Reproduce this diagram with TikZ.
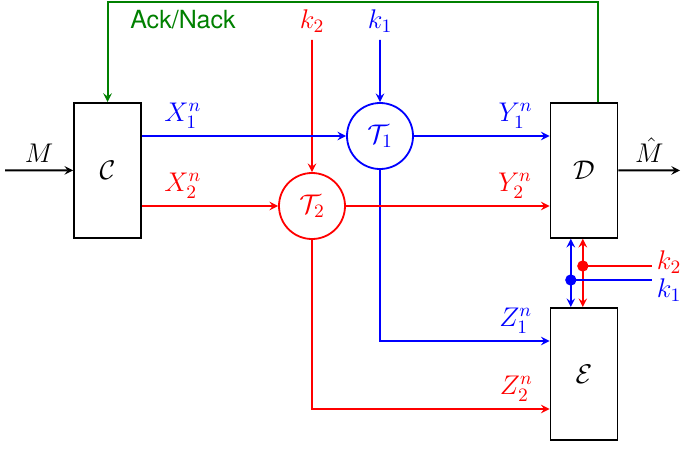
\documentclass[tikz,border=0pt]{standalone}
\usepackage{fix-cm}
\usepackage{amsmath,amssymb}
\usepackage{fontspec}
\usepackage{tikz}
\usepackage{xcolor}
\newfontfamily\acksf{TeX Gyre Heros}

\begin{document}
\begin{tikzpicture}[scale=0.7028, >=stealth, line width=0.9pt,
    font=\fontsize{13.5}{16}\selectfont,
    blk/.style={draw,black,minimum width=33.5pt,minimum height=67.5pt,inner sep=0pt},
    key/.style={circle,draw,minimum size=33pt,inner sep=0pt},
    dot/.style={circle,fill,inner sep=2pt},
    ack/.style={green!50!black}]
  \useasboundingbox (0,0) rectangle (17.05,11.2);
  \node[blk] (C) at (2.69,6.94) {$\mathcal{C}$};
  \node[blk] (D) at (14.6,6.94) {$\mathcal{D}$};
  \node[blk,minimum height=66pt] (E) at (14.6,1.85) {$\mathcal{E}$};
  \node[key,blue] (T1) at (9.5,7.8)  {$\mathcal{T}_1$};
  \node[key,red]  (T2) at (7.8,6.05) {$\mathcal{T}_2$};
  \node[red]  (k2) at (7.8,10.68) {$k_2$};
  \node[blue] (k1) at (9.5,10.68) {$k_1$};
  \draw[red,->]  (k2) -- (T2);
  \draw[blue,->] (k1) -- (T1);
  % input and output
  \coordinate (min)  at (0.125,6.94);
  \coordinate (mout) at (17.0,6.94);
  \draw[->] (min) -- (C) node[midway,above] (m) {$M$};
  \draw[->] (D) -- (mout) node[midway,above] (mh) {$\hat{M}$};
  % main channels
  \coordinate (z1) at (0,2.675);
  \coordinate (z2) at (0,0.975);
  \draw[blue,->] (T1) |- (E.west |- z1) node[pos=0.9,above] (z1n) {$Z_1^n$};
  \draw[red,->]  (T2) |- (E.west |- z2) node[pos=0.93,above] (z2n) {$Z_2^n$};
  \draw[blue,->] (C.east |- T1) -- (T1) node[pos=0.2,above] (x1) {$X_1^n$};
  \draw[blue,->] (T1) -- (D.west |- T1) node[pos=0.75,above] (y1) {$Y_1^n$};
  \draw[red,->]  (C.east |- T2) -- (T2) node[pos=0.3,above] (x2) {$X_2^n$};
  \draw[red,->]  (T2) -- (D.west |- T2) node[pos=0.83,above] (y2) {$Y_2^n$};
  % keys shared by D and E
  \coordinate (j1) at (14.27,4.2);
  \coordinate (j2) at (14.57,4.55);
  \coordinate (k1in) at (16.3,4.2);
  \coordinate (k2in) at (16.3,4.55);
  \draw[blue,<->] (D.south -| j1) -- (E.north -| j1);
  \draw[red,<->]  (D.south -| j2) -- (E.north -| j2);
  \draw[red]  (j2) -- (k2in) node[right,inner sep=2pt,yshift=2pt] (k2b) {$k_2$};
  \draw[blue] (j1) -- (k1in) node[right,inner sep=2pt,yshift=-5pt] (k1b) {$k_1$};
  \node[dot,red]  (d2) at (j2) {};
  \node[dot,blue] (d1) at (j1) {};
  % feedback
  \coordinate (fb) at (14.95,11.15);
  \draw[ack,->] (D.north -| fb) -- (fb) -| (C);
  \node[ack,font=\fontsize{12.5}{15}\acksf] (an) at (4.575,10.7) {Ack/Nack};
\end{tikzpicture}
\end{document}
